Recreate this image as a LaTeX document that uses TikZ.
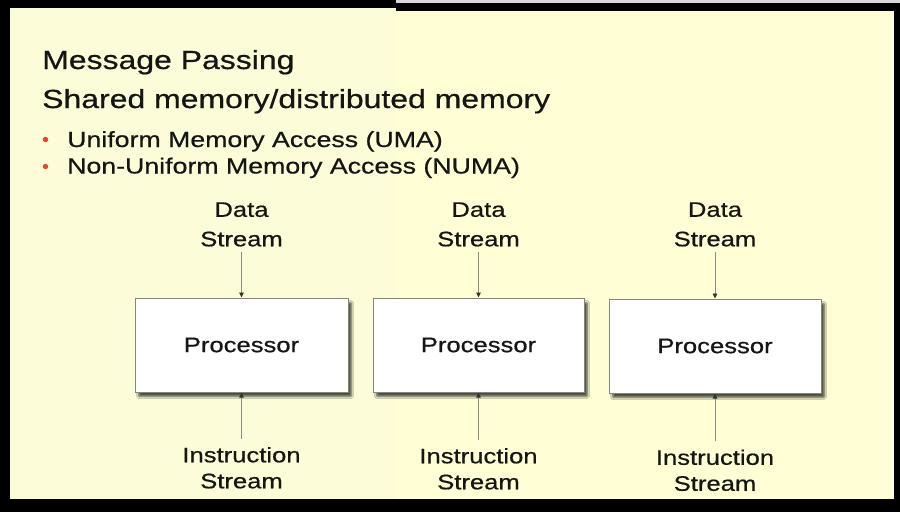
\documentclass[tikz,border=0pt]{standalone}
\usepackage{fontspec}
\setmainfont{Liberation Sans}[FakeStretch=1.22,FakeBold=0.6]
\usetikzlibrary{arrows.meta,shadows.blur}
\definecolor{ylL}{HTML}{FCFCD8}
\definecolor{ylR}{HTML}{FFFED5}
\definecolor{txt}{HTML}{151515}
\definecolor{boxgray}{HTML}{85857F}
\definecolor{linegray}{HTML}{8C8C86}
\definecolor{tipdark}{HTML}{333333}
\definecolor{bulletred}{HTML}{E8452C}
\definecolor{stripgray}{HTML}{D8D8D8}
\begin{document}
\begin{tikzpicture}[x=1pt,y=-1pt,
  title/.style={anchor=base west,inner sep=0,font=\fontsize{26.2}{30}\selectfont,text=txt},
  item/.style={anchor=base west,inner sep=0,font=\fontsize{21.9}{26}\selectfont,text=txt},
  bullet/.style={circle,fill=bulletred,inner sep=0,minimum size=5.4pt},
  procbox/.style={draw=boxgray,line width=1pt,fill=white,minimum height=94pt,inner sep=0,
    font=\fontsize{21}{25}\selectfont,text=txt,
    blur shadow={shadow xshift=3.5pt,shadow yshift=-4.5pt,shadow blur steps=8,shadow blur extra rounding=1pt,shadow opacity=70}},
  dlabel/.style={anchor=south,inner sep=0,text depth=0pt,align=center,font=\fontsize{21}{29.5}\selectfont,text=txt},
  ilabel/.style={anchor=south,inner sep=0,text depth=0pt,align=center,font=\fontsize{21}{26}\selectfont,text=txt},
  flow/.style={draw=linegray,line width=0.8pt,-{Triangle[length=5pt,width=4.5pt,color=tipdark]}}
]
\useasboundingbox (0,0) rectangle (900,512);
% frame and background
\fill[black] (0,0) rectangle (900,512);
\fill[stripgray] (396,0) rectangle (900,3);
\fill[ylL] (10,8) rectangle (396,499);
\fill[ylR] (396,10.5) rectangle (894,499);
% texts
\node[title] (t1) at (42,69) {Message Passing};
\node[title] (t2) at (42,108) {Shared memory/distributed memory};
\node[bullet] (b1) at (45.5,139.5) {};
\node[item] (u1) at (67,147) {Uniform Memory Access (UMA)};
\node[bullet] (b2) at (45.5,166.5) {};
\node[item] (u2) at (67,173.5) {Non-Uniform Memory Access (NUMA)};
% processors
\node[procbox,minimum width=213pt] (p1) at (241.5,345) {Processor};
\node[procbox,minimum width=211pt] (p2) at (478.5,345) {Processor};
\node[procbox,minimum width=212pt] (p3) at (715,346) {Processor};
% labels
\node[dlabel] (d1) at (241.5,246.5) {Data\\Stream};
\node[dlabel] (d2) at (478.5,246.5) {Data\\Stream};
\node[dlabel] (d3) at (715,246.5) {Data\\Stream};
\node[ilabel] (i1) at (241.5,488.5) {Instruction\\Stream};
\node[ilabel] (i2) at (478.5,489.5) {Instruction\\Stream};
\node[ilabel] (i3) at (715,491) {Instruction\\Stream};
% connectors
\foreach \k in {1,2,3}{
  \draw[flow,shorten <=5.5pt] (d\k.south) -- (d\k.south |- p\k.north);
  \draw[flow,shorten <=8pt] (i\k.north) -- (i\k.north |- p\k.south);
}
\end{tikzpicture}
\end{document}
